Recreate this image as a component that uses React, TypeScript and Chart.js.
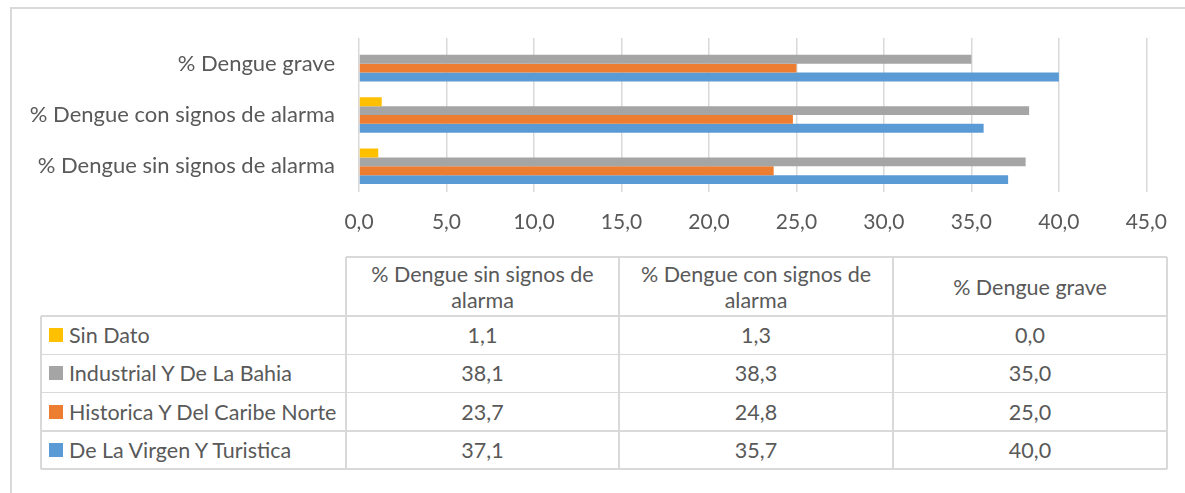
import React, { useEffect, useRef } from "react";
import { Chart, registerables } from "chart.js";

Chart.register(...registerables);

const categories = [
  "% Dengue sin signos de alarma",
  "% Dengue con signos de alarma",
  "% Dengue grave",
];
const seriesNames = [
  "Sin Dato",
  "Industrial Y De La Bahia",
  "Historica Y Del Caribe Norte",
  "De La Virgen Y Turistica",
];
const sinDato = [1.1, 1.3, 0.0];
const industrial = [38.1, 38.3, 35.0];
const historica = [23.7, 24.8, 25.0];
const virgen = [37.1, 35.7, 40.0];
const seriesValues = [sinDato, industrial, historica, virgen];
const seriesColors = ["#FFC000", "#A5A5A5", "#ED7D31", "#5B9BD5"];
const xMin = 0;
const xMax = 45;
const xStep = 5;

const FONT = "Lato, 'Noto Sans', sans-serif";
const TEXT = "#595959";
const LINE = "#d9d9d9";

const fmt = (v: number) => v.toFixed(1).replace(".", ",");

// layout constants (pixels)
const CANVAS_W = 1185;
const CANVAS_H = 250;
const PLOT_LEFT = 359;
const PLOT_RIGHT = 1147;
const PLOT_TOP = 38;
const PLOT_BOTTOM = 192;

const TABLE_LEFT = 41;
const COL_X = [346, 619, 893, 1167];
const HEADER_TOP = 257;
const ROW_Y = [316, 354.3, 392.6, 430.9, 469.2];

export default function App() {
  const ref = useRef<HTMLCanvasElement | null>(null);

  useEffect(() => {
    if (!ref.current) return;
    const chart = new Chart(ref.current, {
      type: "bar",
      data: {
        labels: categories,
        datasets: seriesNames.map((name, i) => ({
          label: name,
          data: seriesValues[i],
          backgroundColor: seriesColors[i],
          borderWidth: 0,
          categoryPercentage: 0.69,
          barPercentage: 1.0,
        })),
      },
      options: {
        indexAxis: "y",
        animation: false,
        responsive: false,
        maintainAspectRatio: false,
        layout: {
          padding: { top: PLOT_TOP, right: CANVAS_W - PLOT_RIGHT, left: 0, bottom: 0 },
        },
        plugins: {
          legend: { display: false },
          tooltip: { enabled: false },
        },
        scales: {
          x: {
            type: "linear",
            min: xMin,
            max: xMax,
            ticks: {
              stepSize: xStep,
              color: TEXT,
              font: { family: FONT, size: 21 },
              padding: 18,
              callback: (v: any) => fmt(Number(v)),
            },
            grid: { color: LINE, lineWidth: 1.5, drawTicks: false },
            border: { display: false },
            afterFit: (s: any) => {
              s.height = CANVAS_H - PLOT_BOTTOM;
            },
          },
          y: {
            reverse: true,
            ticks: {
              color: TEXT,
              font: { family: FONT, size: 22 },
              padding: 24,
            },
            grid: { display: false, drawTicks: false },
            border: { display: false },
            afterFit: (s: any) => {
              s.width = PLOT_LEFT;
            },
          },
        },
      },
    });
    return () => chart.destroy();
  }, []);

  const cellBase: React.CSSProperties = {
    position: "absolute",
    boxSizing: "border-box",
    display: "flex",
    alignItems: "center",
    justifyContent: "center",
    textAlign: "center",
    color: TEXT,
    fontFamily: FONT,
    fontSize: 21.5,
    lineHeight: "26px",
  };

  const cells: React.ReactNode[] = [];
  categories.forEach((c, j) => {
    cells.push(
      <div
        key={"h" + j}
        style={{
          ...cellBase,
          left: COL_X[j],
          top: HEADER_TOP,
          width: COL_X[j + 1] - COL_X[j],
          height: ROW_Y[0] - HEADER_TOP,
          padding: "0 14px",
        }}
      >
        {c}
      </div>
    );
  });
  seriesNames.forEach((name, i) => {
    const top = ROW_Y[i];
    const h = ROW_Y[i + 1] - ROW_Y[i];
    cells.push(
      <div
        key={"n" + i}
        style={{
          ...cellBase,
          left: TABLE_LEFT,
          top,
          width: COL_X[0] - TABLE_LEFT,
          height: h,
          justifyContent: "flex-start",
          paddingLeft: 8,
          whiteSpace: "nowrap",
        }}
      >
        <span
          style={{
            display: "inline-block",
            flex: "0 0 14px",
            width: 14,
            height: 14,
            background: seriesColors[i],
            marginRight: 6,
          }}
        />
        {name}
      </div>
    );
    seriesValues[i].forEach((v, j) => {
      cells.push(
        <div
          key={"v" + i + "-" + j}
          style={{
            ...cellBase,
            left: COL_X[j],
            top,
            width: COL_X[j + 1] - COL_X[j],
            height: h,
          }}
        >
          {fmt(v)}
        </div>
      );
    });
  });

  const lines: React.ReactNode[] = [];
  const lw = 1.5;
  ROW_Y.forEach((y, k) => {
    lines.push(
      <div
        key={"hl" + k}
        style={{ position: "absolute", left: TABLE_LEFT, top: y - lw / 2, width: COL_X[3] - TABLE_LEFT, height: lw, background: LINE }}
      />
    );
  });
  lines.push(
    <div
      key="hltop"
      style={{ position: "absolute", left: COL_X[0], top: HEADER_TOP - lw / 2, width: COL_X[3] - COL_X[0], height: lw, background: LINE }}
    />
  );
  lines.push(
    <div
      key="vl0"
      style={{ position: "absolute", left: TABLE_LEFT - lw / 2, top: ROW_Y[0], width: lw, height: ROW_Y[4] - ROW_Y[0], background: LINE }}
    />
  );
  COL_X.forEach((x, k) => {
    lines.push(
      <div
        key={"vl" + (k + 1)}
        style={{ position: "absolute", left: x - lw / 2, top: HEADER_TOP, width: lw, height: ROW_Y[4] - HEADER_TOP, background: LINE }}
      />
    );
  });

  return (
    <div
      style={{
        position: "fixed",
        left: 0,
        top: 0,
        width: 1185,
        height: 493,
        overflow: "hidden",
        background: "#ffffff",
      }}
    >
      <div
        style={{
          position: "absolute",
          left: 10,
          top: 7,
          width: 1300,
          height: 600,
          borderLeft: `2px solid ${LINE}`,
          borderTop: `2px solid ${LINE}`,
        }}
      />
      <canvas
        ref={ref}
        width={CANVAS_W}
        height={CANVAS_H}
        style={{ position: "absolute", left: 0, top: 0, width: CANVAS_W, height: CANVAS_H }}
      />
      {lines}
      {cells}
    </div>
  );
}
